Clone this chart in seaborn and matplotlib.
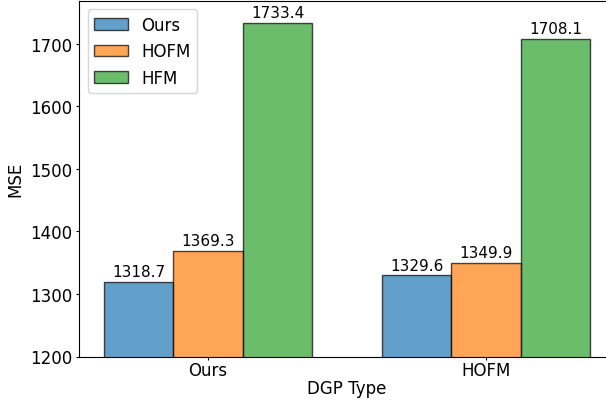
import pandas as pd
import matplotlib
matplotlib.use('Agg')
import matplotlib.pyplot as plt
import seaborn as sns

# values
dgp_types = ['Ours', 'HOFM']
models = ['Ours', 'HOFM', 'HFM']
mse_ours = [1318.7, 1329.6]
mse_hofm = [1369.3, 1349.9]
mse_hfm = [1733.4, 1708.1]

df = pd.DataFrame({
    'DGP Type': dgp_types * 3,
    'Model': [m for m in models for _ in dgp_types],
    'MSE': mse_ours + mse_hofm + mse_hfm,
})

fig = plt.figure(figsize=(6.06, 4.02), dpi=100)
ax = fig.add_axes([79.4 / 606, 44.5 / 402, 535.2 / 606, 355.5 / 402])

sns.barplot(data=df, x='DGP Type', y='MSE', hue='Model', order=dgp_types,
            hue_order=models, palette=['tab:blue', 'tab:orange', 'tab:green'],
            saturation=1, width=0.75, alpha=0.7, edgecolor='black',
            linewidth=1, errorbar=None, ax=ax)

for container in ax.containers:
    ax.bar_label(container, fmt='%.1f', padding=2, fontsize=11)

ax.set_xlim(-0.4625, 1.4625)
ax.set_ylim(1200, max(mse_hfm) * 1.02)
ax.set_xlabel('DGP Type', fontsize=12, labelpad=0)
ax.set_ylabel('MSE', fontsize=12, labelpad=4)
ax.tick_params(axis='both', labelsize=12, length=2.2)
ax.tick_params(axis='x', pad=1)
ax.tick_params(axis='y', pad=2.8)
ax.legend(loc='upper left', fontsize=12)

fig.savefig('out.png', dpi=100)
